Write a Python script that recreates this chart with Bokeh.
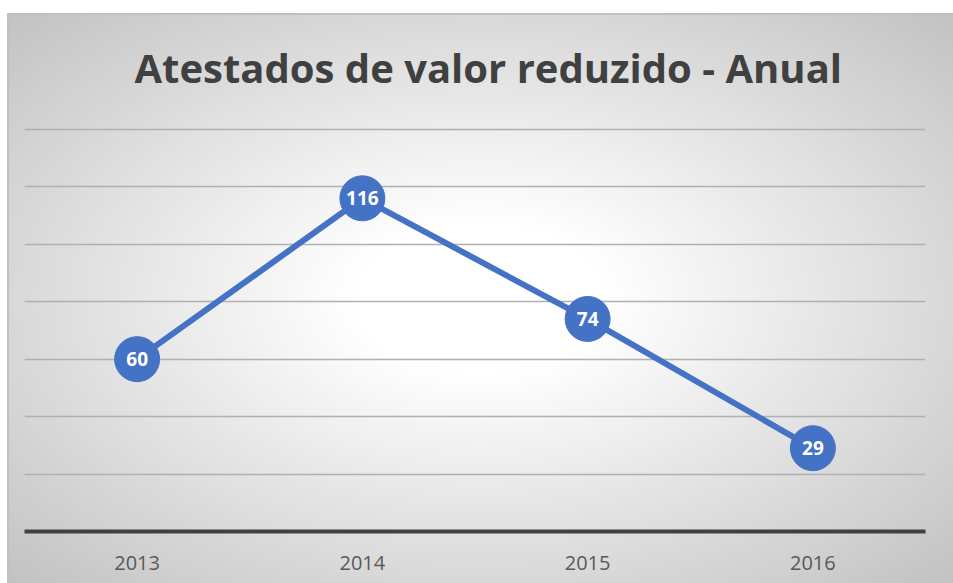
from bokeh.plotting import figure
from bokeh.models import ColumnDataSource, FixedTicker, Range1d
from bokeh.embed import file_html
from bokeh.resources import INLINE
from bokeh.core.properties import value

years = ["2013", "2014", "2015", "2016"]
counts = [60, 116, 74, 29]
labels = [str(v) for v in counts]
grid_values = [20, 40, 60, 80, 100, 120, 140]

src = ColumnDataSource(dict(x=years, y=counts, lab=labels))

p = figure(x_range=years, y_range=Range1d(0, 141), width=953, height=583,
           output_backend="svg", toolbar_location=None,
           min_border_left=24, min_border_right=28,
           min_border_top=126, min_border_bottom=52,
           title="Atestados de valor reduzido - Anual")
p.styles = {"background": "linear-gradient(#c0c0c0,#c0c0c0) 7px 13px/100% 2px no-repeat, "
                          "linear-gradient(#c0c0c0,#c0c0c0) 7px 13px/2px 100% no-repeat, "
                          "radial-gradient(ellipse at 50% 50%, #ffffff 18%, #c2c2c2 100%) 7px 13px/calc(100% - 7px) calc(100% - 13px) no-repeat, #ffffff"}
p.border_fill_color = None
p.background_fill_color = None
p.outline_line_color = None

p.title.text_font = "Open Sans"
p.title.text_font_size = "40px"
p.title.text_font_style = "bold"
p.title.text_color = "#404040"
p.title.align = "left"
p.title.offset = 110
p.title.standoff = 64

p.yaxis.visible = False
p.ygrid.ticker = FixedTicker(ticks=grid_values)
p.ygrid.grid_line_color = "#b0b0b0"
p.ygrid.grid_line_width = 1.5
p.xgrid.grid_line_color = None

p.xaxis.axis_line_color = "#404040"
p.xaxis.axis_line_width = 4
p.xaxis.major_tick_line_color = None
p.xaxis.minor_tick_line_color = None
p.xaxis.major_label_text_font = "Open Sans"
p.xaxis.major_label_text_font_size = "20px"
p.xaxis.major_label_text_color = "#595959"
p.xaxis.major_label_standoff = 18

p.line("x", "y", source=src, line_color="#4472C4", line_width=6)
p.scatter("x", "y", source=src, size=45, fill_color="#4472C4", line_color="#4472C4")
p.text("x", "y", text="lab", source=src, text_color="white",
       text_font=value("Open Sans"), text_font_style="bold", text_font_size="19px",
       text_align="center", text_baseline="middle")

open("out.html", "w").write(file_html(p, INLINE))
